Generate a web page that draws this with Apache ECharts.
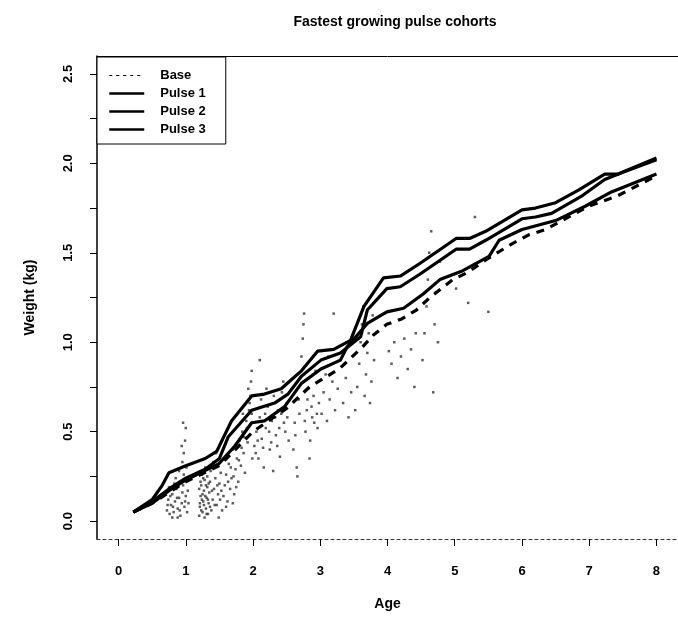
<!DOCTYPE html>
<html>
<head>
<meta charset="utf-8">
<script src="https://cdn.jsdelivr.net/npm/echarts@6/dist/echarts.min.js"></script>
<style>html,body{margin:0;padding:0;background:#fff}#c{width:678px;height:617px}</style>
</head>
<body>
<div id="c"></div>
<script>
const xTicks = [0, 1, 2, 3, 4, 5, 6, 7, 8];
const yTicks = [0, 0.25, 0.5, 0.75, 1, 1.25, 1.5, 1.75, 2, 2.25, 2.5];
const yLabels = [0, 0.5, 1, 1.5, 2, 2.5];
const seriesNames = ['Base', 'Pulse 1', 'Pulse 2', 'Pulse 3'];

const base = [[0.22,0.05],[0.5,0.1],[0.75,0.16],[1.0,0.22],[1.5,0.31],[2.0,0.5],[2.5,0.63],[2.84,0.75],[3.06,0.80],[3.28,0.85],[3.62,0.97],[3.79,1.04],[3.99,1.10],[4.21,1.13],[4.43,1.18],[4.63,1.25],[4.97,1.35],[5.19,1.39],[5.46,1.46],[5.85,1.55],[6.1,1.60],[6.35,1.63],[6.74,1.71],[6.99,1.76],[7.43,1.82],[8.0,1.93]];
const pulse1 = [[0.22,0.05],[0.5,0.12],[0.65,0.2],[0.75,0.27],[1.0,0.31],[1.29,0.35],[1.46,0.39],[1.68,0.56],[1.98,0.70],[2.17,0.71],[2.42,0.74],[2.57,0.79],[2.72,0.84],[2.96,0.95],[3.2,0.96],[3.45,1.01],[3.65,1.2],[3.94,1.36],[4.19,1.37],[4.48,1.44],[5.02,1.58],[5.22,1.58],[5.46,1.62],[6.0,1.74],[6.2,1.75],[6.5,1.78],[6.84,1.85],[7.23,1.94],[7.43,1.94],[8.0,2.03]];
const pulse2 = [[0.22,0.05],[0.5,0.11],[0.75,0.18],[1.0,0.24],[1.29,0.29],[1.5,0.35],[1.63,0.47],[1.98,0.62],[2.32,0.66],[2.52,0.71],[2.72,0.81],[3.01,0.90],[3.3,0.94],[3.6,1.03],[3.7,1.18],[3.99,1.30],[4.19,1.31],[4.48,1.38],[5.02,1.52],[5.22,1.52],[5.46,1.57],[6.0,1.69],[6.2,1.70],[6.44,1.72],[6.9,1.82],[7.23,1.91],[7.5,1.95],[8.0,2.02]];
const pulse3 = [[0.22,0.05],[0.5,0.1],[0.75,0.17],[1.0,0.23],[1.49,0.32],[1.73,0.42],[1.98,0.55],[2.17,0.56],[2.47,0.64],[2.72,0.77],[3.01,0.85],[3.3,0.90],[3.4,0.975],[3.7,1.105],[3.99,1.17],[4.24,1.19],[4.53,1.27],[4.78,1.35],[5.12,1.40],[5.51,1.48],[5.66,1.57],[6.0,1.63],[6.5,1.68],[6.94,1.76],[7.33,1.84],[8.0,1.94]];

const observations = [
[0.72,0.06],[0.74,0.12],[0.76,0.04],[0.78,0.09],[0.8,0.15],[0.82,0.05],[0.84,0.11],[0.86,0.18],[0.88,0.07],[0.9,0.13],[0.92,0.03],[0.94,0.1],[0.96,0.2],[0.98,0.08],[1.0,0.14],[1.02,0.05],[0.85,0.24],[0.9,0.28],[0.95,0.33],[0.97,0.38],[0.99,0.45],[1.0,0.52],[0.96,0.55],[1.01,0.3],[0.93,0.22],[0.8,0.02],[0.88,0.02],[1.04,0.1],[0.75,0.19],[0.83,0.21],
[0.73,0.09],[0.77,0.14],[0.81,0.08],[0.87,0.13],[0.91,0.06],[0.95,0.16],[0.99,0.11],[1.03,0.17],[0.97,0.26],[0.94,0.42],
[1.2,0.03],[1.21,0.08],[1.22,0.14],[1.23,0.2],[1.24,0.26],[1.25,0.05],[1.26,0.11],[1.27,0.17],[1.28,0.23],[1.29,0.3],[1.3,0.07],[1.31,0.13],[1.32,0.19],[1.33,0.04],[1.34,0.1],[1.35,0.16],[1.36,0.22],[1.37,0.28],[1.38,0.06],[1.4,0.12],[1.42,0.18],[1.44,0.24],[1.46,0.09],[1.48,0.15],[1.5,0.21],[1.52,0.27],[1.54,0.06],[1.41,0.33],[1.45,0.38],[1.49,0.02],[1.2,0.18],[1.24,0.12],[1.28,0.02],[1.32,0.25],
[1.21,0.1],[1.22,0.22],[1.23,0.06],[1.25,0.15],[1.26,0.24],[1.27,0.09],[1.29,0.14],[1.3,0.2],[1.31,0.04],[1.33,0.12],[1.34,0.21],[1.36,0.08],[1.39,0.17],[1.43,0.09],[1.47,0.2],[1.51,0.12],[1.53,0.17],
[1.56,0.14],[1.58,0.2],[1.6,0.26],[1.62,0.11],[1.64,0.32],[1.66,0.18],[1.68,0.24],[1.7,0.4],[1.72,0.15],[1.74,0.29],[1.76,0.35],[1.78,0.22],[1.8,0.45],[1.82,0.31],[1.84,0.5],[1.86,0.38],[1.88,0.27],[1.9,0.56],[1.92,0.44],[1.94,0.62],[1.96,0.7],[1.97,0.78],[1.98,0.84],[1.93,0.74],[1.99,0.35],[1.85,0.6],[1.6,0.08],[1.7,0.1],
[1.63,0.22],[1.67,0.3],[1.71,0.25],[1.75,0.19],[1.79,0.34],[1.83,0.41],[1.87,0.47],[1.91,0.52],[1.95,0.66],[1.98,0.6],
[2.02,0.42],[2.05,0.5],[2.08,0.35],[2.1,0.58],[2.13,0.46],[2.16,0.3],[2.19,0.52],[2.22,0.64],[2.25,0.4],[2.28,0.56],[2.31,0.7],[2.34,0.48],[2.37,0.62],[2.4,0.36],[2.43,0.72],[2.46,0.55],[2.5,0.66],[2.53,0.45],[2.12,0.68],[2.3,0.28],[2.45,0.78],[2.2,0.74],
[2.04,0.38],[2.07,0.45],[2.15,0.41],[2.18,0.6],[2.24,0.5],[2.27,0.44],[2.33,0.58],[2.36,0.42],[2.39,0.52],[2.42,0.6],[2.48,0.5],[2.51,0.58],
[2.6,0.4],[2.62,0.55],[2.65,0.3],[2.68,0.68],[2.7,0.8],[2.72,0.92],[2.74,1.02],[2.75,1.1],[2.76,1.16],[2.78,0.5],[2.8,0.62],[2.82,0.74],[2.85,0.45],[2.88,0.58],[2.9,0.7],[2.93,0.84],[2.96,0.52],[2.98,0.66],[2.66,0.25],[2.84,0.35],
[2.63,0.48],[2.69,0.6],[2.77,0.56],[2.81,0.68],[2.87,0.64],[2.91,0.55],[2.95,0.6],
[3.02,0.6],[3.05,0.72],[3.08,0.82],[3.1,0.56],[3.14,0.68],[3.18,0.78],[3.22,0.62],[3.26,0.74],[3.3,0.9],[3.34,0.66],[3.38,0.8],[3.42,0.58],[3.46,0.72],[3.12,0.92],[3.36,0.95],
[3.52,0.62],[3.55,0.75],[3.58,0.88],[3.6,1.0],[3.62,1.1],[3.64,1.2],[3.66,0.7],[3.68,0.82],[3.7,0.94],[3.72,1.05],[3.74,0.66],[3.76,0.78],[3.78,1.15],[3.56,1.02],[3.8,0.9],
[4.02,0.95],[4.06,0.88],[4.1,1.0],[4.15,0.8],[4.2,0.92],[4.25,1.02],[4.3,0.85],[4.35,0.96],[4.4,0.75],[4.42,1.05],
[4.52,0.9],[4.55,1.05],[4.58,1.2],[4.6,1.35],[4.62,1.5],[4.65,1.62],[4.68,0.72],[4.7,1.1],[4.72,1.28],[4.75,1.0],[4.78,1.45],
[5.02,1.3],[5.2,1.22],[5.5,1.17],[5.3,1.7],[3.2,1.16],[2.1,0.9]
];

const FONT = "'Liberation Sans', Arial, sans-serif";
const chart = echarts.init(document.getElementById('c'), null, {renderer: 'canvas'});
const lineSeries = (name, data, type) => ({
  name, type: 'line', data, xAxisIndex: 0, symbol: 'none', smooth: false,
  lineStyle: {color: '#000', width: 3.2, type: type},
  itemStyle: {color: '#000'}, z: 3, silent: true
});
const hiddenSymbol = {color: 'rgba(0,0,0,0)', borderWidth: 0, opacity: 0};
chart.setOption({
  animation: false,
  backgroundColor: '#fff',
  title: {
    text: 'Fastest growing pulse cohorts', left: 390, top: 10, textAlign: 'center',
    textStyle: {fontFamily: FONT, fontSize: 14, fontWeight: 'bold', color: '#000'}
  },
  grid: {left: 97, right: -6, top: 56, bottom: 78, containLabel: false},
  legend: {
    orient: 'vertical', left: 97, top: 57, padding: [12, 20, 8, 11], itemGap: 5,
    itemWidth: 35, itemHeight: 14, borderColor: '#000', borderWidth: 1, backgroundColor: '#fff',
    textStyle: {fontFamily: FONT, fontSize: 13, fontWeight: 'bold', color: '#000', padding: [0, 0, 0, 11]},
    data: [
      {name: seriesNames[0], itemStyle: hiddenSymbol, lineStyle: {type: [3, 4], width: 1, color: '#000', opacity: 1}},
      {name: seriesNames[1], itemStyle: hiddenSymbol, lineStyle: {width: 2.5, color: '#000', opacity: 1}},
      {name: seriesNames[2], itemStyle: hiddenSymbol, lineStyle: {width: 2.5, color: '#000', opacity: 1}},
      {name: seriesNames[3], itemStyle: hiddenSymbol, lineStyle: {width: 2.5, color: '#000', opacity: 1}}
    ]
  },
  xAxis: [{
    type: 'value', min: -0.32, max: 8.32, position: 'bottom',
    name: 'Age', nameLocation: 'middle', nameGap: 58,
    nameTextStyle: {fontFamily: FONT, fontSize: 14, fontWeight: 'bold', color: '#000'},
    axisLine: {show: true, onZero: false, lineStyle: {color: '#333', width: 1, type: [3, 3]}},
    axisTick: {show: true, length: 7, customValues: xTicks, lineStyle: {color: '#000', width: 1}},
    axisLabel: {customValues: xTicks, margin: 26, fontFamily: FONT, fontSize: 13, fontWeight: 'bold', color: '#000'},
    splitLine: {show: false}
  }, {
    type: 'value', min: -0.32, max: 8.32, position: 'top',
    axisLine: {show: true, onZero: false, lineStyle: {color: '#000', width: 1}},
    axisTick: {show: false}, axisLabel: {show: false}, splitLine: {show: false}
  }],
  yAxis: {
    type: 'value', min: -0.1, max: 2.6,
    name: 'Weight (kg)', nameLocation: 'middle', nameGap: 60, nameRotate: 90,
    nameTextStyle: {fontFamily: FONT, fontSize: 14, fontWeight: 'bold', color: '#000'},
    axisLine: {show: true, onZero: false, lineStyle: {color: '#000', width: 1.5}},
    axisTick: {show: true, length: 7, customValues: yTicks, lineStyle: {color: '#000', width: 1}},
    axisLabel: {customValues: yLabels, rotate: 90, margin: 22, fontFamily: FONT, fontSize: 13, fontWeight: 'bold', color: '#000',
      formatter: v => v.toFixed(1)},
    splitLine: {show: false}
  },
  series: [
    {name: 'obs', type: 'scatter', data: observations, xAxisIndex: 0, symbol: 'rect', symbolSize: 2.5,
     itemStyle: {color: '#333'}, z: 1, silent: true},
    lineSeries(seriesNames[0], base, [8, 7]),
    lineSeries(seriesNames[1], pulse1, 'solid'),
    lineSeries(seriesNames[2], pulse2, 'solid'),
    lineSeries(seriesNames[3], pulse3, 'solid')
  ]
});
</script>
</body>
</html>
